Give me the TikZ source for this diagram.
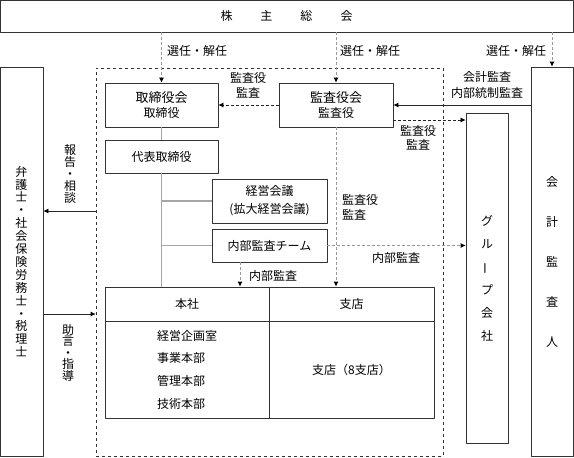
\documentclass[tikz,border=0pt]{standalone}
\usepackage{fontspec}
\setmainfont{Noto Sans CJK JP}
\usepackage{graphicx}
\usetikzlibrary{arrows.meta}

\begin{document}
\begin{tikzpicture}[x=1pt,y=-1pt,font=\fontsize{12}{14}\selectfont, line join=round, >={Latex[length=5pt,width=5pt,color=black]},
    box/.style={draw=black!80,line width=.8pt,inner sep=0pt,align=center},
    conn/.style={draw=black!35,line width=1.3pt},
    graydash/.style={black!40,line width=.8pt,dash pattern=on 3pt off 2pt},
    darkdash/.style={black!85,line width=.7pt,dash pattern=on 3pt off 2pt},
    solidarr/.style={black!85,line width=.8pt},
    lbl/.style={inner sep=0pt,align=center},
    tate/.style={inner sep=0pt,align=center,font=\fontsize{12}{#1}\selectfont}]
    \useasboundingbox (0,0) rectangle (574,458);
    % boxes
    \node[box,minimum width=573pt,minimum height=32pt] (soukai) at (286.5,16) {株\hspace{28pt}主\hspace{28pt}総\hspace{28pt}会};
    \node[draw=black!80,dashed,line width=.6pt,minimum width=347pt,minimum height=388pt] (kaisha) at (269.5,262) {};
    \node[box,minimum width=113pt,minimum height=44pt,font=\fontsize{12}{15}\selectfont] (torikai) at (161.5,105) {{\fontsize{13}{15}\selectfont 取締役会}\\取締役};
    \node[box,minimum width=114pt,minimum height=44pt,font=\fontsize{12}{15}\selectfont] (kansakai) at (336,105) {{\fontsize{13}{15}\selectfont 監査役会}\\監査役};
    \node[box,minimum width=113pt,minimum height=33pt] (daihyo) at (161.5,156.5) {代表取締役};
    \node[box,minimum width=115pt,minimum height=44pt,font=\fontsize{12}{18}\selectfont] (keiei) at (269.5,201) {経営会議\\(拡大経営会議)};
    \node[box,minimum width=115pt,minimum height=33pt] (naibu) at (269.5,245.5) {内部監査チーム};
    \node[box,minimum width=164pt,minimum height=34pt] (honhead) at (187,304) {本社};
    \node[box,minimum width=165pt,minimum height=34pt] (shihead) at (351.5,304) {支店};
    \node[box,minimum width=164pt,minimum height=97pt,align=left,font=\fontsize{12}{22.7}\selectfont] (honbody) at (187,369.5) {経営企画室\\事業本部\\管理本部\\技術本部};
    \node[box,minimum width=165pt,minimum height=97pt] (shibody) at (351.5,369.5) {支店（8支店）};
    \node[box,minimum width=42pt,minimum height=330pt,font=\fontsize{12}{23}\selectfont] (group) at (487,278) {グ\\ル\\\rotatebox[origin=c]{90}{ー}\\プ\\会\\社};
    \node[box,minimum width=42pt,minimum height=389pt,font=\fontsize{12}{40}\selectfont] (kaikei) at (552,261.5) {会\\計\\監\\査\\人};
    \node[box,minimum width=43pt,minimum height=389pt,font=\fontsize{12}{12.9}\selectfont] (bengo) at (21.5,261.5) {弁\\護\\士\\・\\社\\会\\保\\険\\労\\務\\士\\・\\税\\理\\士};

    % lines
    \draw[conn] (torikai.south) -- (daihyo.north);
    \draw[conn] (daihyo.south) -- (daihyo.south |- honhead.north);
    \draw[conn] (keiei.west -| daihyo.south) -- (keiei.west);
    \draw[conn] (naibu.west -| daihyo.south) -- (naibu.west);

    \draw[graydash,->] (soukai.south -| torikai.north) -- (torikai.north);
    \draw[graydash,->] (soukai.south -| kansakai.north) -- (kansakai.north);
    \draw[graydash,->] (soukai.south -| kaikei.north) -- (kaikei.north);
    \draw[darkdash,->] (kansakai.west) -- (torikai.east);
    \draw[solidarr,->] (kaikei.west |- kansakai.east) -- (kansakai.east);
    \draw[darkdash,->] ([yshift=-15pt]kansakai.east) -- ([yshift=-15pt]kansakai.east -| group.west);
    \draw[graydash,->] (kansakai.south) -- (kansakai.south |- shihead.north);
    \draw[graydash,->] ([xshift=-29.5pt]naibu.south) -- ([xshift=-29.5pt]naibu.south |- honhead.north);
    \draw[graydash,->] (naibu.east) -- (naibu.east -| group.west);
    \draw[solidarr,->] (kaisha.west |- 0,211) -- (bengo.east |- 0,211);
    \draw[solidarr,->] (bengo.east |- 0,314) -- (kaisha.west |- 0,314);

    % labels
    \node[lbl] (sennin1) at (197,51) {選任・解任};
    \node[lbl] (sennin2) at (370,51) {選任・解任};
    \node[lbl] (sennin3) at (516,51) {選任・解任};
    \node[lbl,font=\fontsize{12}{15}\selectfont] (kansa1) at (248,85.5) {監査役\\監査};
    \node[lbl,font=\fontsize{12}{16}\selectfont] (kaikeikansa) at (487,85) {会計監査\\内部統制監査};
    \node[lbl,font=\fontsize{12}{14}\selectfont] (kansa2) at (418,138) {監査役\\監査};
    \node[lbl,align=left,anchor=west,font=\fontsize{12}{15}\selectfont] (kansa3) at (342,207.5) {監査役\\監査};
    \node[lbl] (naibukansa1) at (273,276) {内部監査};
    \node[lbl] (naibukansa2) at (396,258) {内部監査};
    \node[tate=12] (houkoku) at (70,174) {報\\告\\・\\相\\談};
    \node[tate=11.5] (jogen) at (68,352.5) {助\\言\\・\\指\\導};
\end{tikzpicture}
\end{document}
